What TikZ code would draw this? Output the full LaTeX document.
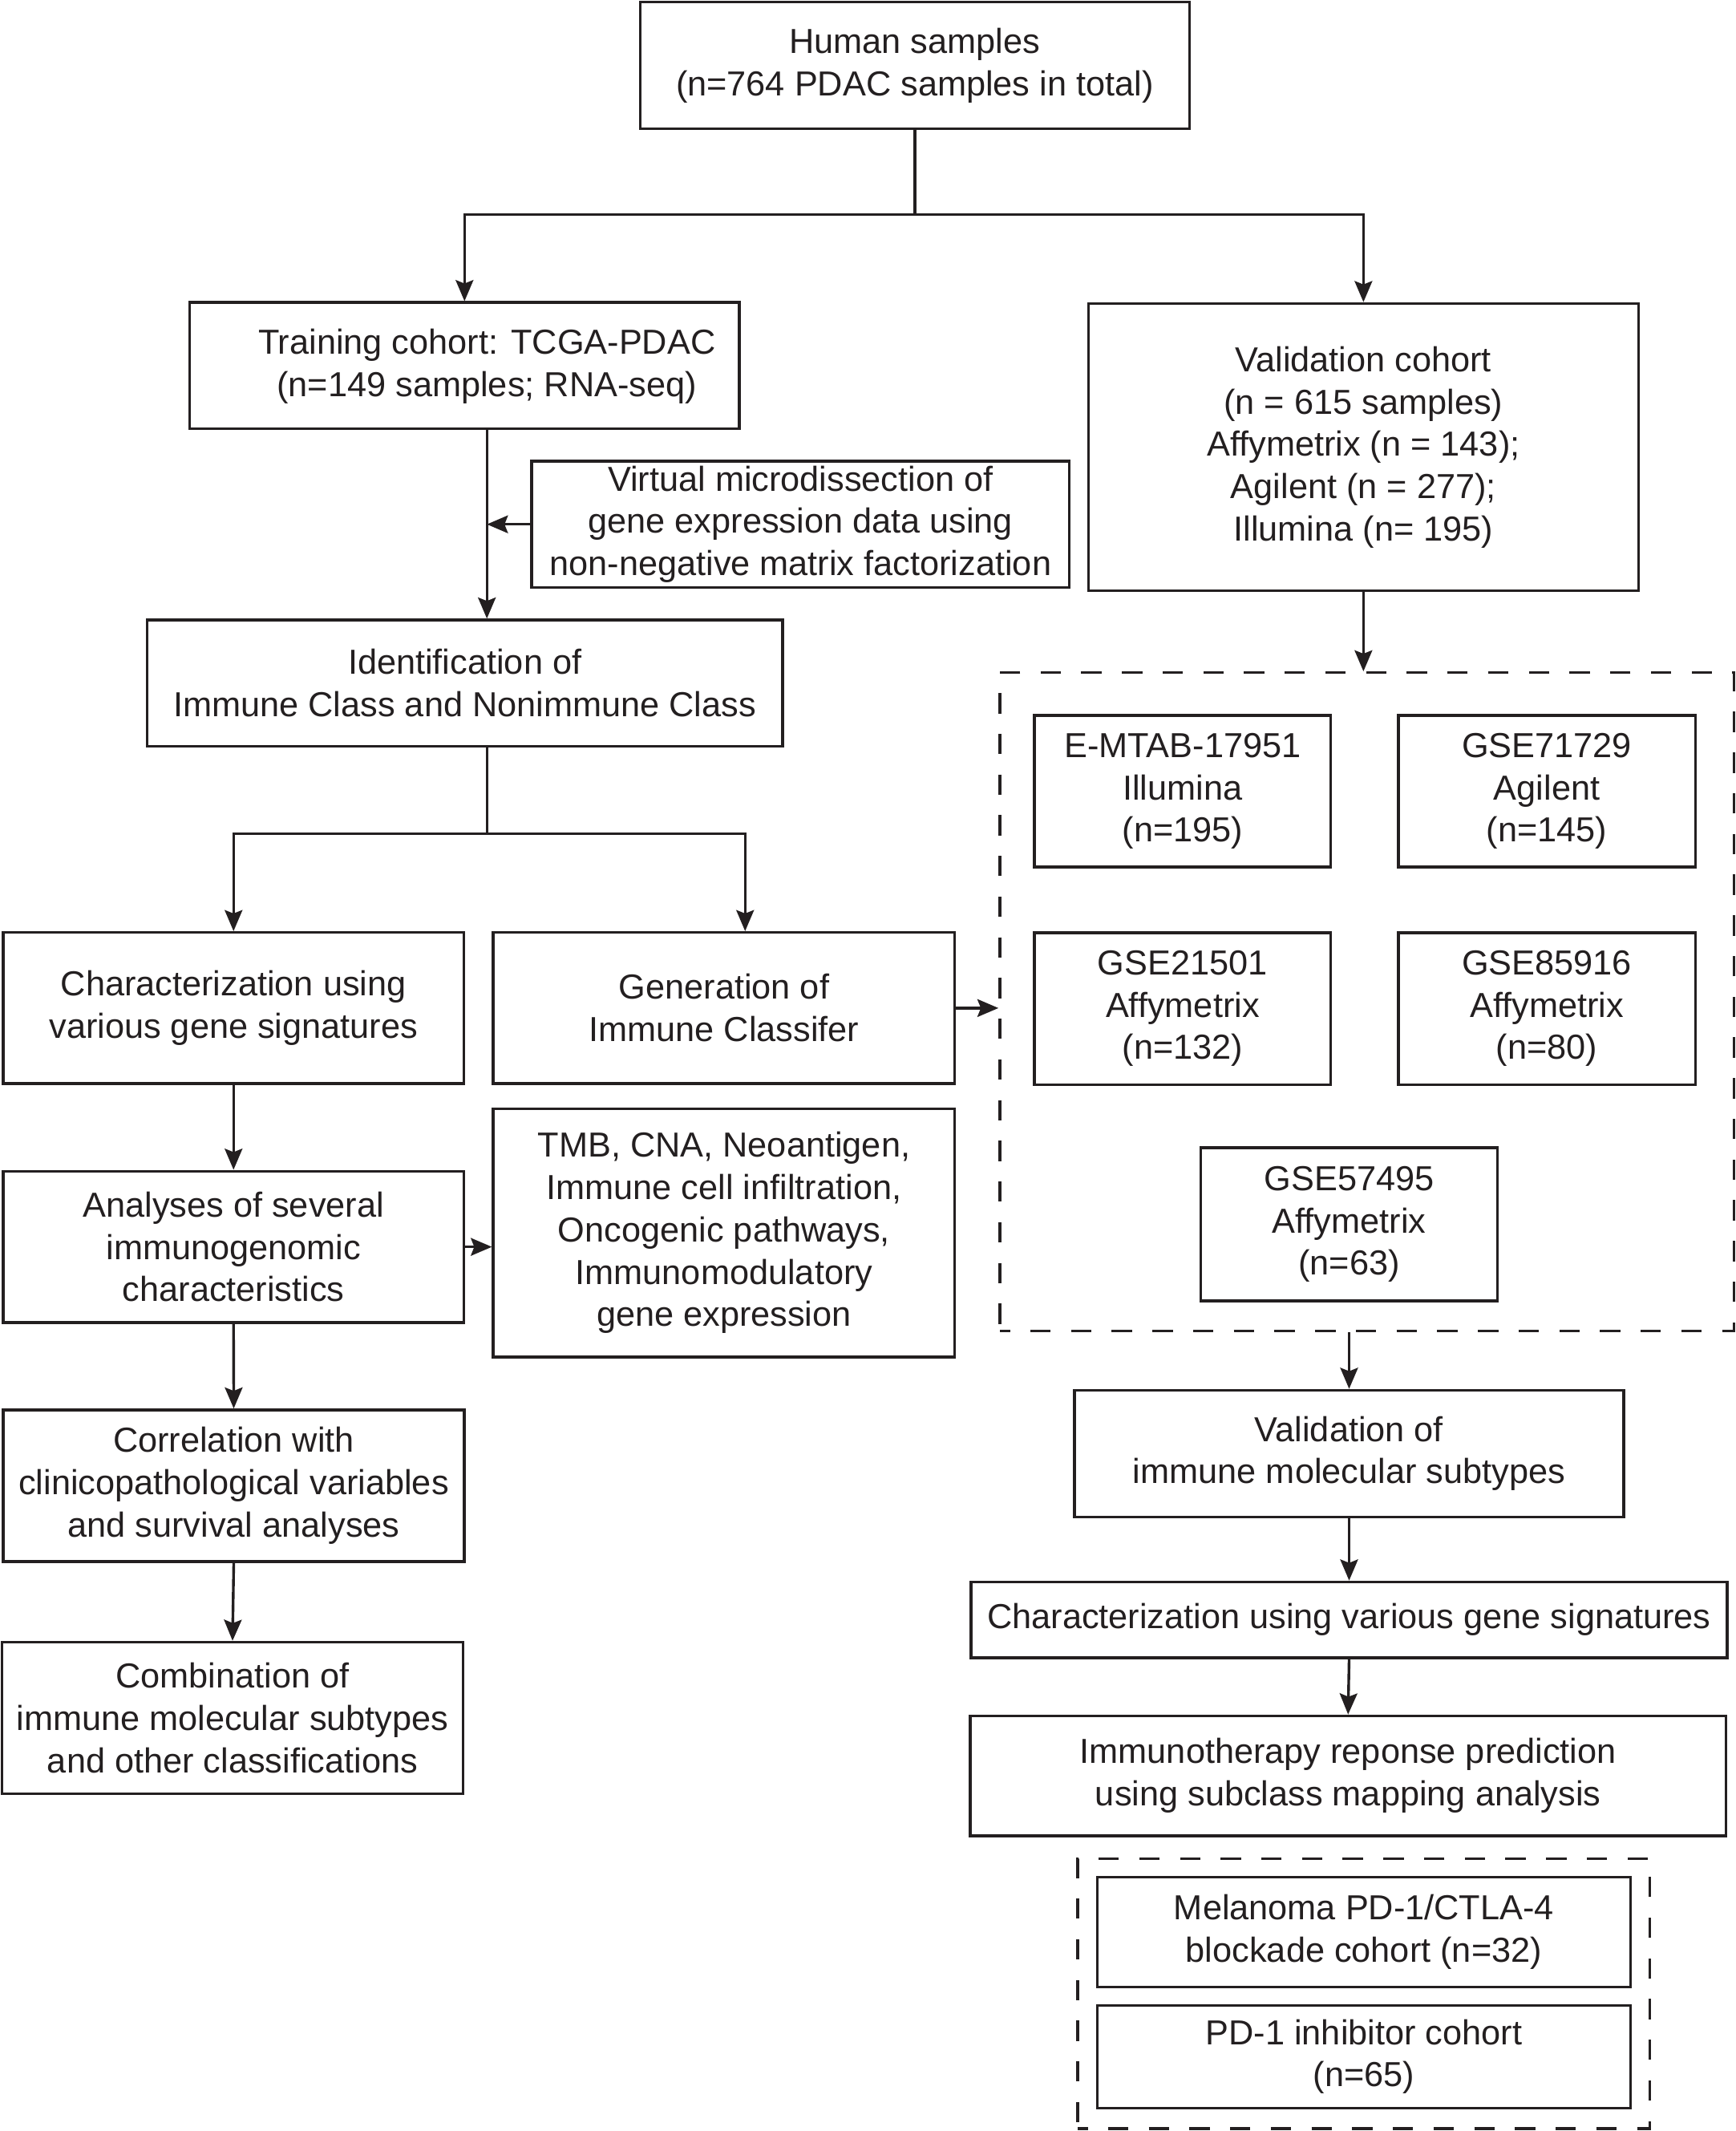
\documentclass[tikz,border=0pt]{standalone}
\usepackage{fontspec}
\setmainfont{Liberation Sans}
\usetikzlibrary{arrows.meta}
\definecolor{ink}{RGB}{35,31,32}
\newcommand\mybox[6]{\node[box, minimum width={#3-#1}, minimum height={#4-#2}] (#5) at ({(#1+#3)/2},{(#2+#4)/2}) {#6};}
\newcommand\mydbox[5]{\node[dbox, minimum width={#3-#1}, minimum height={#4-#2}] (#5) at ({(#1+#3)/2},{(#2+#4)/2}) {};}
\begin{document}
\begin{tikzpicture}[x=1pt,y=-1pt,
  txt/.style={inner sep=0pt, align=center, text=ink, font=\fontsize{25.6}{31.2}\selectfont},
  box/.style={txt, draw=ink, line width=2pt},
  dbox/.style={draw=ink, line width=2pt, dash pattern=on 15pt off 15pt, dash phase=7.5pt, inner sep=0pt},
  conn/.style={draw=ink, line width=2pt},
  arr/.style={conn, -{Stealth[length=15.5pt,width=13pt,inset=2.5pt]}}]
\useasboundingbox (0,0) rectangle (1280,1570.9);

% top and left column
\mybox{472}{1.5}{877}{95}{human}{Human samples\\(n=764 PDAC samples in total)}
\mybox{140}{223}{545}{316}{train}{}
\node[txt] (traint) at (359,270) {Training cohort: TCGA-PDAC\\(n=149 samples; RNA-seq)};
\mybox{392}{340}{788.5}{433}{virt}{Virtual microdissection of\\gene expression data using\\non-negative matrix factorization}
\mybox{802.6}{223.7}{1208}{435.6}{valc}{Validation cohort\\(n = 615 samples)\\Affymetrix (n = 143);\\Agilent (n = 277);\\Illumina (n= 195)}
\mybox{108.4}{457}{577}{550}{ident}{Identification of\\Immune Class and Nonimmune Class}
\mybox{2.4}{687.4}{342}{798.8}{char}{Characterization using\\various gene signatures}
\mybox{363.7}{687.4}{704}{798.8}{gen}{Generation of\\Immune Classifer}
\mybox{2.4}{863.3}{342}{975}{anal}{Analyses of several\\immunogenomic\\characteristics}
\mybox{363.7}{817.4}{704}{1000.3}{tmb}{TMB, CNA, Neoantigen,\\Immune cell infiltration,\\Oncogenic pathways,\\Immunomodulatory\\gene expression}
\mybox{2.3}{1039.3}{342.4}{1151}{corr}{Correlation with\\clinicopathological variables\\and survival analyses}
\mybox{1.4}{1210.5}{341.5}{1322.1}{comb}{Combination of\\immune molecular subtypes\\and other classifications}

% right column
\mydbox{737.2}{495.9}{1278.4}{981}{dasha}
\mybox{762.7}{527.4}{981.3}{639.1}{emtab}{E-MTAB-17951\\Illumina\\(n=195)}
\mybox{1031}{527.4}{1250}{639.1}{gsea}{GSE71729\\Agilent\\(n=145)}
\mybox{762.7}{687.5}{981.3}{799.5}{gseb}{GSE21501\\Affymetrix\\(n=132)}
\mybox{1031}{687.5}{1250}{799.5}{gsec}{GSE85916\\Affymetrix\\(n=80)}
\mybox{885.3}{846.1}{1104.2}{959}{gsed}{GSE57495\\Affymetrix\\(n=63)}
\mybox{792.2}{1024.8}{1197.3}{1118.2}{valsub}{Validation of\\immune molecular subtypes}
\mybox{716}{1166.1}{1273.5}{1222}{chartwo}{Characterization using various gene signatures}
\mybox{715.3}{1264.8}{1272.7}{1353.3}{immuno}{Immunotherapy reponse prediction\\using subclass mapping analysis}
\mydbox{794.5}{1370}{1216.5}{1569}{dashb}
\mybox{809}{1383.6}{1202.3}{1464.9}{mel}{Melanoma PD-1/CTLA-4\\blockade cohort (n=32)}
\mybox{809}{1478.2}{1202.3}{1554}{pdone}{PD-1 inhibitor cohort\\(n=65)}

% connectors
\coordinate (j1) at (674.5,158);
\draw[conn] (human.south) -- (j1);
\draw[arr] (j1) -| (train.north);
\draw[arr] (j1) -| (valc.north);
\draw[arr] (traint |- train.south) -- (traint |- ident.north);
\draw[arr] (virt.west) -- (virt.west -| traint);
\coordinate (j2) at (359,614.4);
\draw[conn] (ident.south -| j2) -- (j2);
\draw[arr] (j2) -| (char.north);
\coordinate (gx) at (549.4,686.4);
\draw[arr] (j2) -| (gx);
\draw[arr] (gen.east) -- (gen.east -| dasha.west);
\draw[arr] (valc.south) -- (valc.south |- dasha.north);
\draw[arr] (char.south) -- (anal.north);
\draw[arr] (anal.east) -- (anal.east -| tmb.west);
\draw[arr] (anal.south) -- (corr.north);
\draw[arr] (corr.south) -- (comb.north);
\draw[arr] (valsub.north |- dasha.south) -- (valsub.north);
\draw[arr] (valsub.south) -- (chartwo.north);
\draw[arr] (chartwo.south) -- (immuno.north);
\end{tikzpicture}
\end{document}
